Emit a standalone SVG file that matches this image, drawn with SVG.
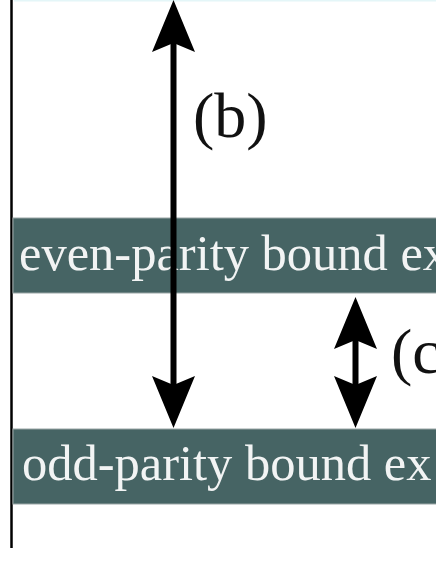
<svg xmlns="http://www.w3.org/2000/svg" width="436" height="564" viewBox="0 0 436 564">
  <style>
    .band { fill: #466464; stroke: #9aa6a6; stroke-width: 1; }
    .bandtext { font-family: "Liberation Serif", "Times New Roman", serif; font-size: 50.5px; fill: #f2f4f4; }
    .label { font-family: "Liberation Serif", "Times New Roman", serif; font-size: 64px; fill: #111; }
    .conn { stroke: #000; stroke-width: 6; fill: none; marker-start: url(#head); marker-end: url(#head); }
  </style>
  <defs>
    <marker id="head" viewBox="-10 -23 55 46" markerWidth="55" markerHeight="46" refX="0" refY="0" markerUnits="userSpaceOnUse" orient="auto-start-reverse">
      <path d="M43,0 L-9,-21.5 L0,0 L-9,21.5 Z" fill="#000"/>
    </marker>
  </defs>
  <rect x="0" y="0" width="436" height="564" fill="#fff"/>
  <rect x="14" y="0" width="422" height="1.5" fill="#e4f6f8"/>
  <g id="axis">
    <line x1="11.5" y1="0" x2="11.5" y2="548" stroke="#000" stroke-width="2.5"/>
  </g>
  <g id="even-band">
    <rect class="band" x="13" y="218" width="430" height="75"/>
    <text class="bandtext" x="19" y="270">even-parity bound ex</text>
  </g>
  <g id="odd-band">
    <rect class="band" x="13" y="429" width="430" height="75"/>
    <text class="bandtext" x="22" y="480">odd-parity bound ex</text>
  </g>
  <g id="label-b">
    <text class="label" x="193" y="137">(b)</text>
  </g>
  <g id="label-c">
    <text class="label" x="391" y="373">(c</text>
  </g>
  <g id="connectors">
    <path class="conn" d="M173.5,43 L173.5,385"/>
    <path class="conn" d="M355.5,340 L355.5,385"/>
  </g>
</svg>
